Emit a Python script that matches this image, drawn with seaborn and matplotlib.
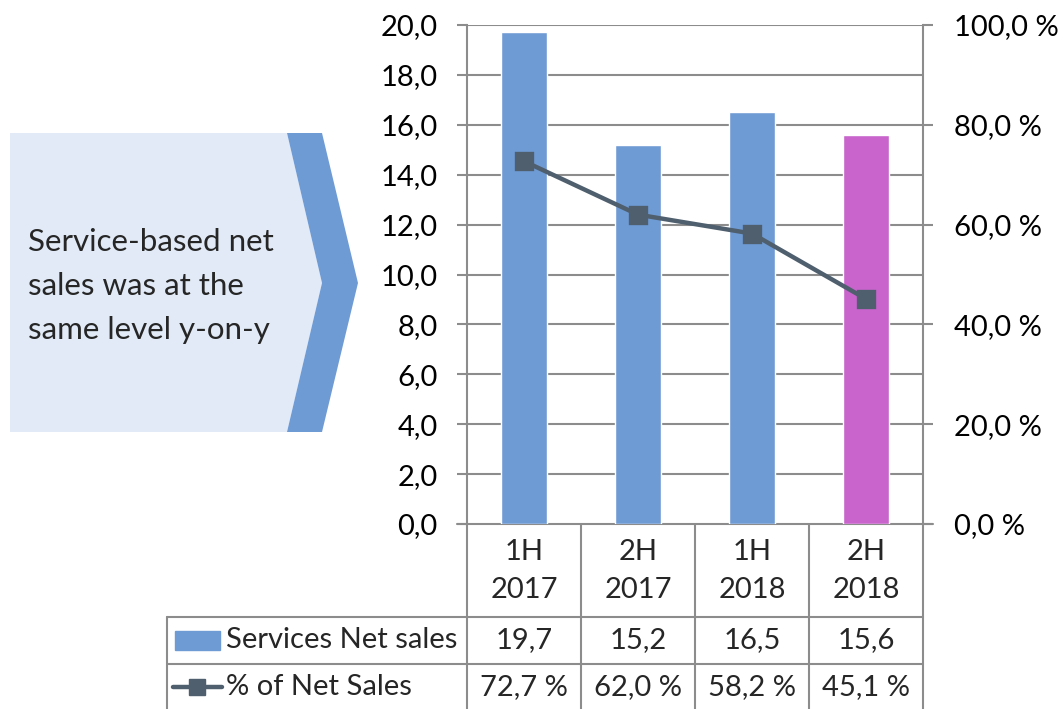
import matplotlib
matplotlib.use("Agg")
import matplotlib.pyplot as plt
import matplotlib.transforms as mtransforms
from matplotlib.patches import Polygon, Rectangle
from matplotlib.ticker import FuncFormatter, MultipleLocator
import seaborn as sns
import pandas as pd

periods = ["1H\n2017", "2H\n2017", "1H\n2018", "2H\n2018"]
net_sales = [19.7, 15.2, 16.5, 15.6]
pct_of_sales = [72.7, 62.0, 58.2, 45.1]
bar_colors = ["#6F9BD5", "#6F9BD5", "#6F9BD5", "#C864CC"]
row_labels = ["Services Net sales", "% of Net Sales"]
callout_text = "Service-based net\nsales was at the\nsame level y-on-y"

sns.set_theme(style="white")
plt.rcParams["font.family"] = ["Lato", "DejaVu Sans"]

W, H = 1064, 709
fig = plt.figure(figsize=(W / 100, H / 100), dpi=100)

grid_c = "#8C8C8C"
line_c = "#4F5F6E"
fs = 21


def comma(v, suffix=""):
    return f"{v:.1f}".replace(".", ",") + suffix


# overlay in pixel coords for callout + table
ov = fig.add_axes([0, 0, 1, 1])
ov.set_xlim(0, W)
ov.set_ylim(H, 0)
ov.axis("off")

# main chart axes
ax = fig.add_axes([467 / W, (H - 524) / H, 456 / W, 499 / H])
df = pd.DataFrame({"period": periods, "sales": net_sales})
sns.barplot(data=df, x="period", y="sales", hue="period", palette=bar_colors,
            width=0.4, legend=False, ax=ax, saturation=1, zorder=3)
ax.set_ylim(0, 20)
ax.set_xlim(-0.5, 3.5)
ax.yaxis.set_major_locator(MultipleLocator(2))
ax.yaxis.set_major_formatter(FuncFormatter(lambda v, p: comma(v)))
ax.grid(axis="y", color=grid_c, linewidth=1.5, zorder=0)
ax.set_axisbelow(True)
ax.set_xlabel("")
ax.set_ylabel("")
ax.set_xticks([])
for s in ["top", "bottom"]:
    ax.spines[s].set_visible(False)
for s in ["left", "right"]:
    ax.spines[s].set_color(grid_c)
    ax.spines[s].set_linewidth(1.5)
ax.tick_params(axis="y", left=True, length=7.2, width=1.5, color=grid_c,
               pad=14, labelsize=fs, labelcolor="black")

ax2 = ax.twinx()
pdf = pd.DataFrame({"period": periods, "pct": pct_of_sales})
sns.pointplot(data=pdf, x="period", y="pct", ax=ax2, color=line_c, markers="s",
              errorbar=None, markersize=11, linewidth=3.2)
ax2.set_ylim(0, 100)
ax2.set_xlim(-0.5, 3.5)
ax2.set_xticks([])
ax2.set_xlabel("")
ax2.set_ylabel("")
ax2.yaxis.set_major_locator(MultipleLocator(20))
ax2.yaxis.set_major_formatter(FuncFormatter(lambda v, p: comma(v, " %")))
ax2.tick_params(axis="y", right=True, length=7.2, width=1.5, color=grid_c,
                pad=15, labelsize=fs, labelcolor="black")
for s in ax2.spines.values():
    s.set_visible(False)
ax2.grid(False)

# baseline extended with ticks
ov.plot([457, 933], [524, 524], color=grid_c, lw=1.5)

# table
tr = mtransforms.blended_transform_factory(ax.transData, ov.transData)
edges = [-0.5, 0.5, 1.5, 2.5, 3.5]
for e in edges:
    ov.plot([e, e], [524, H], color=grid_c, lw=1.5, transform=tr)
ov.plot([167, 167], [617, H], color=grid_c, lw=1.5)
for yy in [617, 664]:
    ov.plot([167, 923], [yy, yy], color=grid_c, lw=1.5)

for i, p in enumerate(periods):
    ov.text(i, 571, p, transform=tr, ha="center", va="center",
            fontsize=fs, linespacing=1.55)
    ov.text(i, 640, comma(net_sales[i]), transform=tr, ha="center",
            va="center", fontsize=fs)
    ov.text(i, 687, comma(pct_of_sales[i], " %"), transform=tr, ha="center",
            va="center", fontsize=fs)

ov.add_patch(Rectangle((175, 631), 45, 19, color=bar_colors[0]))
ov.text(226, 640, row_labels[0], ha="left", va="center", fontsize=fs)
ov.plot([173, 222], [687, 687], color=line_c, lw=3.2, solid_capstyle="round")
ov.plot([197], [687], marker="s", color=line_c, markersize=11)
ov.text(226, 687, row_labels[1], ha="left", va="center", fontsize=fs)

# callout arrow
ov.add_patch(Polygon([(10, 133), (287, 133), (322, 283), (287, 432), (10, 432)],
                     closed=True, color="#E1EAF6", lw=0))
ov.add_patch(Polygon([(287, 133), (322, 133), (358, 283), (322, 432),
                      (287, 432), (322, 283)], closed=True, color="#6F9BD5", lw=0))
ov.text(28, 286, callout_text, ha="left", va="center", fontsize=22.5,
        linespacing=1.7)

fig.savefig("out.png", dpi=100)
